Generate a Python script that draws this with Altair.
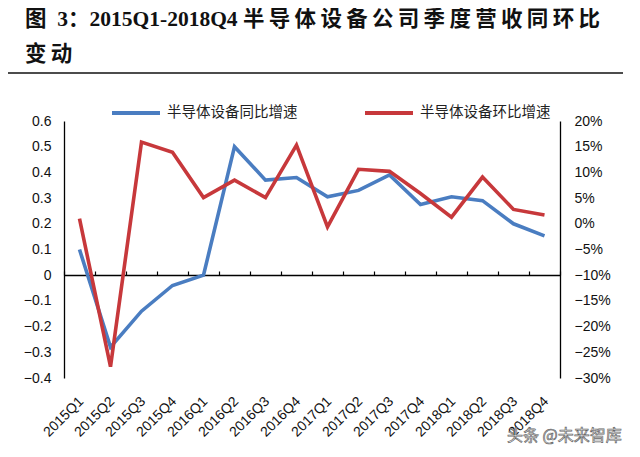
import altair as alt
import pandas as pd

quarters = ["2015Q1", "2015Q2", "2015Q3", "2015Q4", "2016Q1", "2016Q2", "2016Q3", "2016Q4",
            "2017Q1", "2017Q2", "2017Q3", "2017Q4", "2018Q1", "2018Q2", "2018Q3", "2018Q4"]
# 半导体设备同比增速 (left axis)
yoy = [0.10, -0.28, -0.14, -0.04, 0.00, 0.50, 0.37, 0.38,
       0.305, 0.33, 0.39, 0.275, 0.305, 0.29, 0.20, 0.153]
# 半导体设备环比增速 (right axis, fraction)
qoq = [0.010, -0.278, 0.159, 0.139, 0.051, 0.085, 0.051, 0.153,
       -0.006, 0.106, 0.102, 0.059, 0.013, 0.091, 0.028, 0.017]

series_names = ["半导体设备同比增速", "半导体设备环比增速"]
series_colors = ["#4a7dc1", "#c7383b"]
left_ticks = [-0.4, -0.3, -0.2, -0.1, 0, 0.1, 0.2, 0.3, 0.4, 0.5, 0.6]
right_ticks = [-0.30, -0.25, -0.20, -0.15, -0.10, -0.05, 0, 0.05, 0.10, 0.15, 0.20]

title_line1 = "图\u20023：2015Q1-2018Q4 " + "\u2009".join("半导体设备公司季度营收同环比")
title_line2 = "\u2009".join("变动")
watermark = "头条 @未来智库"

df = pd.DataFrame({"quarter": quarters, "yoy": yoy, "qoq": qoq})

AX_FONT = "Liberation Sans"
CJK = "Noto Sans CJK SC"

xscale = alt.Scale(type="band", paddingInner=0, paddingOuter=0)
color = alt.Color(
    "series:N",
    scale=alt.Scale(domain=series_names, range=series_colors),
    legend=alt.Legend(
        title=None, orient="none", legendX=46, legendY=-34, direction="horizontal",
        symbolType="stroke", symbolSize=2304, symbolStrokeWidth=4,
        labelFont=CJK, labelFontSize=14.5, labelColor="#222222",
        labelOffset=5, columnPadding=59,
    ),
)

blue = alt.Chart(df).transform_calculate(series="'半导体设备同比增速'").mark_line(
    strokeWidth=3.6
).encode(
    x=alt.X("quarter:N", sort=quarters, scale=xscale, title=None,
            axis=alt.Axis(orient="bottom", labelAngle=-45, labelAlign="right",
                          labelBaseline="middle", ticks=False, domain=False,
                          labelPadding=21, labelOffset=2, labelFont=AX_FONT,
                          labelFontSize=14, labelColor="#111111", labelOverlap=False)),
    y=alt.Y("yoy:Q", scale=alt.Scale(domain=[-0.4, 0.6], nice=False, zero=False), title=None,
            axis=alt.Axis(orient="left", values=left_ticks, format=".1~f", grid=False,
                          ticks=False, domainColor="#000000", domainWidth=1.3,
                          labelPadding=13, labelFont=AX_FONT, labelFontSize=14,
                          labelColor="#111111")),
    color=color,
)

red = alt.Chart(df).transform_calculate(series="'半导体设备环比增速'").mark_line(
    strokeWidth=3.6
).encode(
    x=alt.X("quarter:N", sort=quarters, scale=xscale, title=None,
            axis=alt.Axis(orient="top", offset=-154, labels=False, tickBand="extent",
                          ticks=True, tickSize=4, tickColor="#000000", tickWidth=1.2,
                          domainColor="#000000", domainWidth=1.5)),
    y=alt.Y("qoq:Q", scale=alt.Scale(domain=[-0.30, 0.20], nice=False, zero=False), title=None,
            axis=alt.Axis(orient="right", values=right_ticks, format=".0%", grid=False,
                          ticks=False, domainColor="#000000", domainWidth=1.3,
                          labelPadding=14, labelFont=AX_FONT, labelFontSize=14,
                          labelColor="#111111")),
    color=color,
)

one = pd.DataFrame({"k": [0]})
t1 = alt.Chart(one).mark_text(
    align="left", baseline="middle", font="Liberation Serif, Noto Sans CJK SC",
    fontSize=21.5, fontWeight="bold", color="#111111"
).encode(x=alt.value(-39), y=alt.value(-101), text=alt.value(title_line1))
t2 = alt.Chart(one).mark_text(
    align="left", baseline="middle", font="Liberation Serif, Noto Sans CJK SC",
    fontSize=21.5, fontWeight="bold", color="#111111"
).encode(x=alt.value(-39), y=alt.value(-66), text=alt.value(title_line2))
underline = alt.Chart(one).mark_rule(color="#111111", strokeWidth=1.6).encode(
    x=alt.value(-56), x2=alt.value(559), y=alt.value(-48)
)
wm = alt.Chart(one).mark_text(
    align="left", baseline="middle", font=CJK, fontSize=16,
    color="#ffffff", stroke="#666666", strokeWidth=0.7
).encode(x=alt.value(443), y=alt.value(315), text=alt.value(watermark))

chart = alt.layer(blue, red, t1, t2, underline, wm).resolve_scale(
    y="independent"
).resolve_axis(
    x="independent", y="independent"
).properties(
    width=496, height=257,
    autosize=alt.AutoSizeParams(type="none"),
    padding={"left": 56, "top": 113, "right": 64, "bottom": 71},
    background="#ffffff",
).configure_view(stroke=None)

chart.save("out.html", embed_options={"renderer": "svg", "actions": False})
